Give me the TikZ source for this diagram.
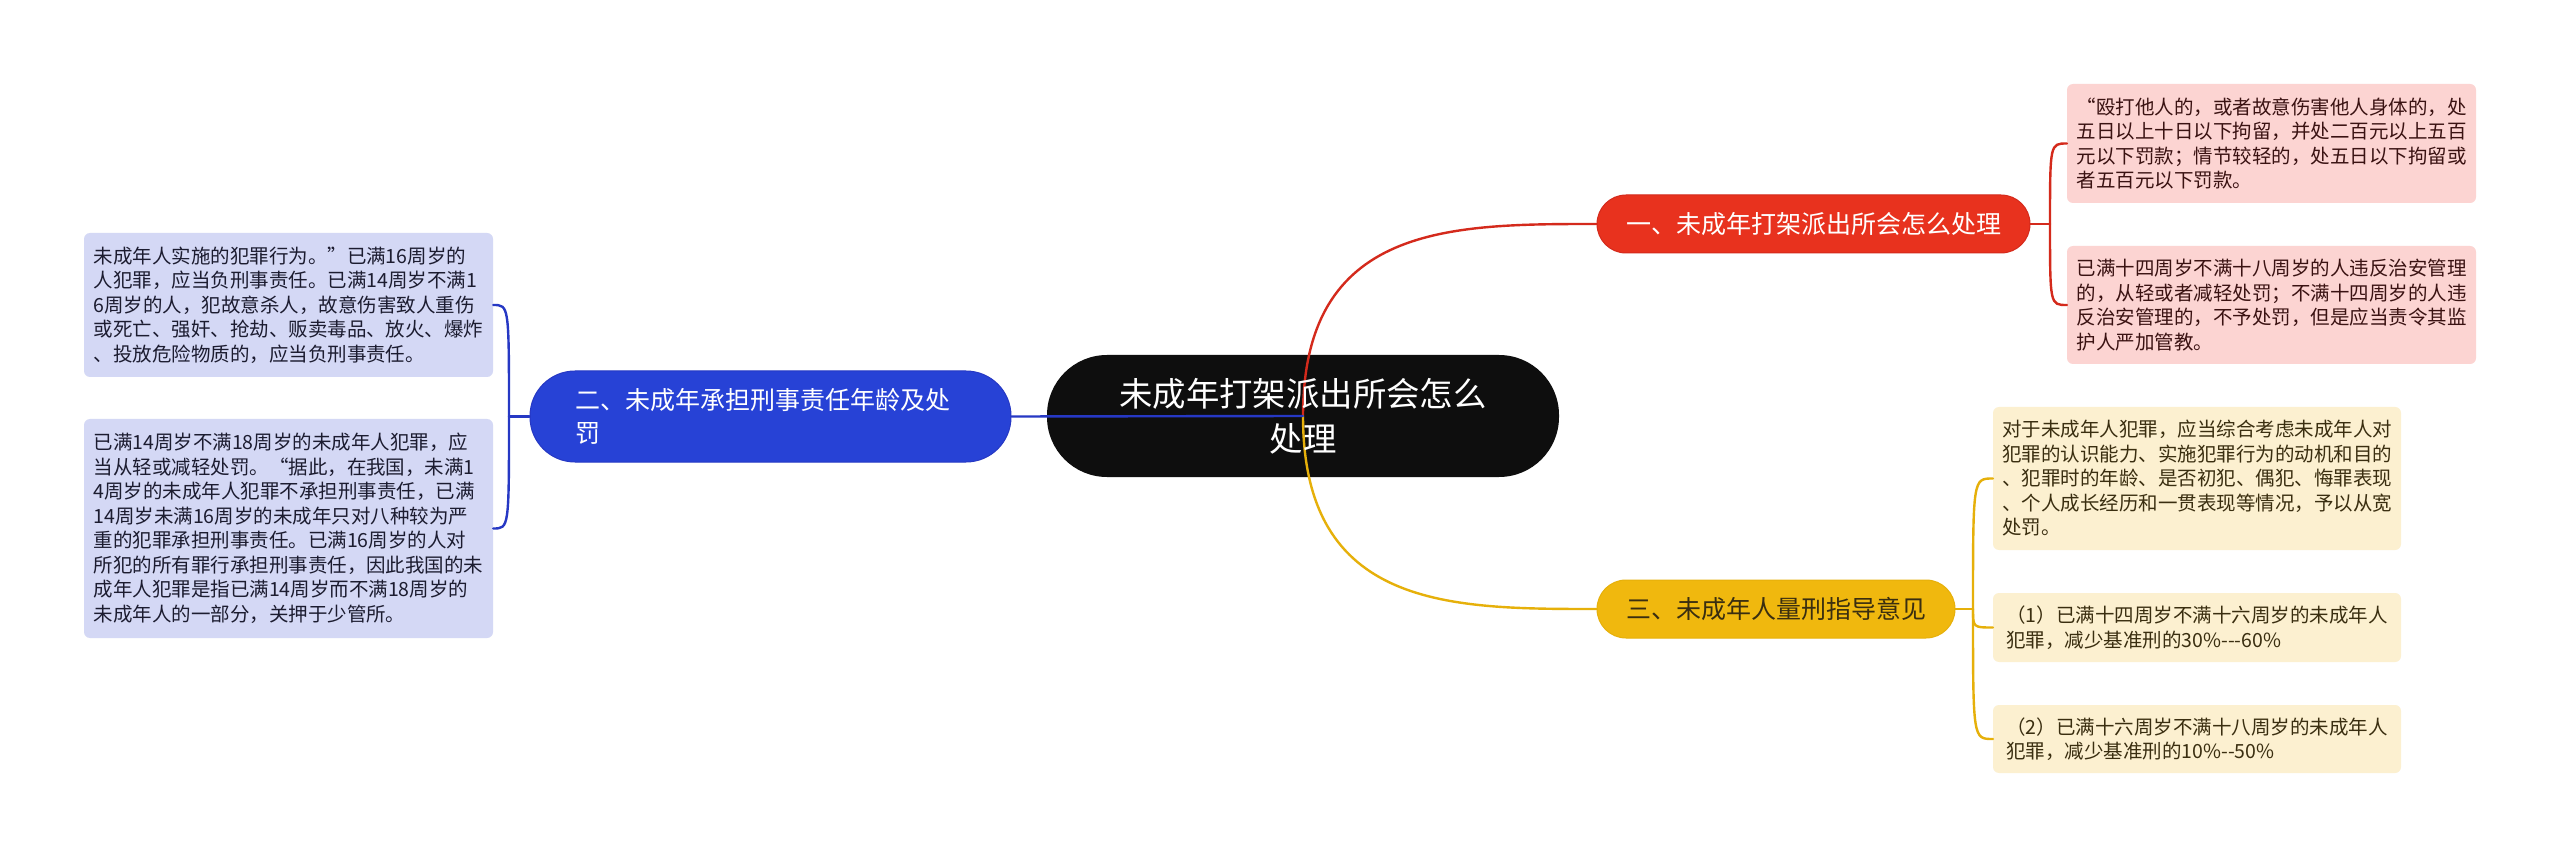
\documentclass[tikz,border=0pt]{standalone}
\usepackage{fontspec}
\setmainfont{Noto Sans CJK SC}[Ligatures=TeXOff]
\definecolor{cblack}{HTML}{0E0E0E}
\definecolor{cred}{HTML}{E8321E}
\definecolor{credline}{HTML}{D42A1C}
\definecolor{credfill}{HTML}{FCD4D2}
\definecolor{credtext}{HTML}{3A1212}
\definecolor{cblue}{HTML}{2742D6}
\definecolor{cblueline}{HTML}{2638C4}
\definecolor{cbluefill}{HTML}{D4D8F5}
\definecolor{cbluetext}{HTML}{1C1C30}
\definecolor{cyel}{HTML}{F0B80E}
\definecolor{cyelline}{HTML}{E6B00A}
\definecolor{cyelfill}{HTML}{FCF0D0}
\definecolor{cyeltext}{HTML}{3A2E10}
\tikzset{
  centralbox/.style={rectangle, fill=cblack, rounded corners=60pt, minimum width=512pt, minimum height=122pt, inner sep=0pt},
  centraltext/.style={inner sep=0pt, align=center, text=white, font=\fontsize{33.4}{45}\selectfont},
  topic/.style={rectangle, inner sep=0pt, line width=1pt, font=\fontsize{25}{33}\selectfont},
  leaf/.style={rectangle, rounded corners=6pt, inner sep=0pt, align=left, minimum width=409pt, font=\fontsize{19.5}{24.5}\selectfont},
  redleaf/.style={leaf, fill=credfill, text=credtext},
  blueleaf/.style={leaf, fill=cbluefill, text=cbluetext},
  yelleaf/.style={leaf, fill=cyelfill, text=cyeltext, minimum width=408pt},
  link/.style={line width=2.4pt, line cap=round},
}
\begin{document}
\begin{tikzpicture}[x=1pt,y=-1pt]
\useasboundingbox (0,0) rectangle (2560,858);
\fill[white] (0,0) rectangle (2560,858);

% central node (fill)
\node[centralbox] (c) at (1303,416) {};

% topic nodes
\node[topic, fill=cred, draw=credline, text=white, rounded corners=29pt, minimum width=433pt, minimum height=58pt] (r) at (1813.5,224) {一、未成年打架派出所会怎么处理};
\node[topic, fill=cblue, draw=cblueline, text=white, rounded corners=45pt, minimum width=481pt, minimum height=91pt, inner xsep=45pt, text width=391pt, align=left] (b) at (770.5,416.5) {二、未成年承担刑事责任年龄及处\\罚};
\node[topic, fill=cyel, draw=cyelline, text=cyeltext, rounded corners=29pt, minimum width=358pt, minimum height=58pt] (y) at (1776,609) {三、未成年人量刑指导意见};

% leaves
\node[redleaf, minimum height=119pt] (r1) at (2271.5,143.5) {“殴打他人的，或者故意伤害他人身体的，处\\五日以上十日以下拘留，并处二百元以上五百\\元以下罚款；情节较轻的，处五日以下拘留或\\者五百元以下罚款。};
\node[redleaf, minimum height=118pt] (r2) at (2271.5,305) {已满十四周岁不满十八周岁的人违反治安管理\\的，从轻或者减轻处罚；不满十四周岁的人违\\反治安管理的，不予处罚，但是应当责令其监\\护人严加管教。};

\node[blueleaf, minimum height=144pt] (b1) at (288.5,305) {未成年人实施的犯罪行为。”已满16周岁的\\人犯罪，应当负刑事责任。已满14周岁不满1\\6周岁的人，犯故意杀人，故意伤害致人重伤\\或死亡、强奸、抢劫、贩卖毒品、放火、爆炸\\、投放危险物质的，应当负刑事责任。};
\node[blueleaf, minimum height=219pt] (b2) at (288.5,528.5) {已满14周岁不满18周岁的未成年人犯罪，应\\当从轻或减轻处罚。“据此，在我国，未满1\\4周岁的未成年人犯罪不承担刑事责任，已满\\14周岁未满16周岁的未成年只对八种较为严\\重的犯罪承担刑事责任。已满16周岁的人对\\所犯的所有罪行承担刑事责任，因此我国的未\\成年人犯罪是指已满14周岁而不满18周岁的\\未成年人的一部分，关押于少管所。};

\node[yelleaf, minimum height=143pt] (y1) at (2197,478.5) {对于未成年人犯罪，应当综合考虑未成年人对\\犯罪的认识能力、实施犯罪行为的动机和目的\\、犯罪时的年龄、是否初犯、偶犯、悔罪表现\\、个人成长经历和一贯表现等情况，予以从宽\\处罚。};
\node[yelleaf, minimum height=69pt] (y2) at (2197,627.5) {（1）已满十四周岁不满十六周岁的未成年人\\犯罪，减少基准刑的30\%---60\%};
\node[yelleaf, minimum height=68pt] (y3) at (2197,739) {（2）已满十六周岁不满十八周岁的未成年人\\犯罪，减少基准刑的10\%--50\%};

% connectors from central
\draw[link, credline] (c.center) .. controls (1303,224) and (1450,224) .. (r.west);
\draw[link, cyelline] (c.center) .. controls (1303,609) and (1450,609) .. (y.west);
\draw[link, cblueline] (c.center) -- (b.east);

% red bracket
\coordinate (rp) at (2050,224);
\draw[link, credline] (r.east) -- (rp);
\draw[link, credline] (rp) .. controls (2050,143.5) .. (r1.west);
\draw[link, credline] (rp) .. controls (2050,305) .. (r2.west);

% blue bracket
\coordinate (bp) at (509,416.5);
\draw[link, cblueline] (b.west) -- (bp);
\draw[link, cblueline] (bp) .. controls (509,305) .. (b1.east);
\draw[link, cblueline] (bp) .. controls (509,528.5) .. (b2.east);

% yellow bracket
\coordinate (yp) at (1973,609);
\draw[link, cyelline] (y.east) -- (yp);
\draw[link, cyelline] (yp) .. controls (1973,478.5) .. (y1.west);
\draw[link, cyelline] (yp) .. controls (1973,627.5) .. (y2.west);
\draw[link, cyelline] (yp) .. controls (1973,739) .. (y3.west);

% central text on top
\node[centraltext] (ct) at (c.center) {未成年打架派出所会怎么\\处理};
\end{tikzpicture}
\end{document}
